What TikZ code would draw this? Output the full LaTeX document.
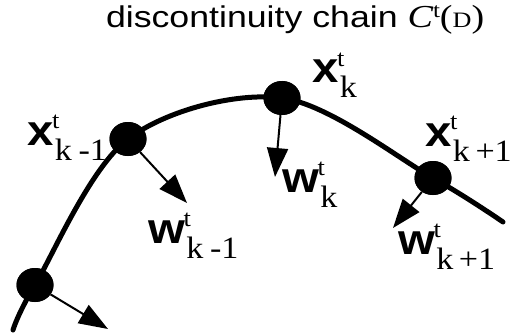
\documentclass[tikz,border=0pt]{standalone}
\usepackage{fontspec}
\setmainfont{Liberation Sans}
\newfontfamily\seriff{Liberation Serif}
\usetikzlibrary{arrows.meta,shapes.geometric}
\newcommand\vlbl[2]{\scalebox{1.1}[1]{\fontsize{43}{43}\selectfont\bfseries #1\kern-1pt\rlap{\raisebox{17pt}{\seriff\mdseries\fontsize{24}{24}\selectfont t}}\kern2.5pt\raisebox{-15pt}{\seriff\mdseries\fontsize{31}{31}\selectfont #2}}}
\newcommand\km{k\kern6pt-1}
\newcommand\kp{k\kern5pt+1}
\tikzset{
  dot/.style={ellipse, fill=black, minimum width=37pt, minimum height=34pt, inner sep=0pt},
  curve/.style={line width=5pt, line cap=round},
  vec/.style={line width=2pt, -{Triangle[length=29pt, width=21pt]}},
  lbl/.style={anchor=base west, inner sep=0pt, outer sep=0pt}
}
\begin{document}
\begin{tikzpicture}[x=1pt, y=-1pt]
\fill[white] (0,0) rectangle (513,334);
\useasboundingbox (0,0) rectangle (513,334);
% title
\node[lbl] (title) at (106,28) {\scalebox{1.19}[1]{\fontsize{30}{30}\selectfont discontinuity chain {\seriff\itshape\fontsize{32}{32}\selectfont C}\raisebox{10pt}{\seriff\fontsize{21}{21}\selectfont t}{\seriff\fontsize{32}{32}\selectfont(\fontsize{22}{22}\selectfont D\fontsize{32}{32}\selectfont)}}};
% dots
\node[dot] (d0) at (35,285) {};
\node[dot] (d1) at (128,139) {};
\node[dot] (d2) at (282,98) {};
\node[dot] (d3) at (433,178) {};
\coordinate (cs) at (13,330);
\coordinate (ce) at (503,222);
% vector tips
\coordinate (t0) at (108,329);
\coordinate (t1) at (187,203);
\coordinate (t2) at (275,177);
\coordinate (t3) at (393,228);
% curve
\draw[curve] plot[smooth, tension=0.55] coordinates {(cs) (d0.center) (d1.center) (d2.center) (d3.center) (ce)};
\node[dot] at (d0) {};
\node[dot] at (d1) {};
\node[dot] at (d2) {};
\node[dot] at (d3) {};
% vectors
\draw[vec] (d0) -- (t0);
\draw[vec] (d1) -- (t1);
\draw[vec] (d2) -- (t2);
\draw[vec] (d3) -- (t3);
% labels
\node[lbl] (lx1) at (27,145) {\vlbl{x}{\km}};
\node[lbl] (lx2) at (312,83) {\vlbl{x}{k}};
\node[lbl] (lx3) at (425,146) {\vlbl{x}{\kp}};
\node[lbl] (lw1) at (148,243) {\vlbl{w}{\km}};
\node[lbl] (lw2) at (282,192) {\vlbl{w}{k}};
\node[lbl] (lw3) at (398,254) {\vlbl{w}{\kp}};
\end{tikzpicture}
\end{document}
